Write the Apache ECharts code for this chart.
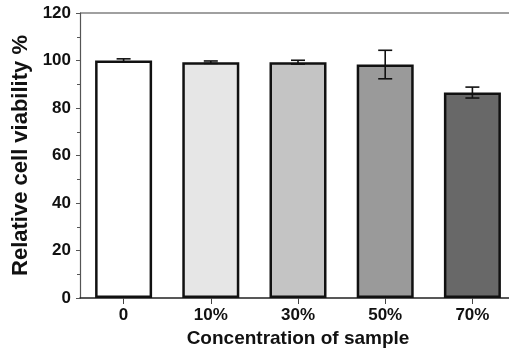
<!DOCTYPE html>
<html>
<head>
<meta charset="utf-8">
<script src="https://cdn.jsdelivr.net/npm/echarts@6/dist/echarts.min.js"></script>
<style>
	html, body { margin: 0; padding: 0; background: #fff; overflow: hidden; }
	#chart { width: 530px; height: 353px; }
</style>
</head>
<body>
<div id="chart"></div>
<script>
const categories = ["0", "10%", "30%", "50%", "70%"];
const viability = [100, 99.3, 99.3, 98.3, 86.5];
const errors = [0.7, 0.5, 0.8, 6.0, 2.3];
const barColors = ["#ffffff", "#e6e6e6", "#c4c4c4", "#9a9a9a", "#686868"];

const chart = echarts.init(document.getElementById("chart"), null, { renderer: "canvas" });

const font = "Arial, 'Liberation Sans', sans-serif";

chart.setOption({
	animation: false,
	grid: { left: 80, top: 13, width: 436, height: 285, show: false },
	xAxis: {
		type: "category",
		data: categories,
		axisLine: { lineStyle: { color: "#222", width: 1.5 } },
		axisTick: { show: true, alignWithLabel: true, length: 6, lineStyle: { color: "#444" } },
		axisLabel: { color: "#111", fontWeight: "bold", fontSize: 17, fontFamily: font, margin: 9 },
		name: "Concentration of sample",
		nameLocation: "middle",
		nameGap: 24,
		nameTextStyle: { color: "#111", fontWeight: "bold", fontSize: 19, fontFamily: font },
	},
	yAxis: {
		type: "value",
		min: 0,
		max: 120,
		interval: 20,
		axisLine: { show: true, lineStyle: { color: "#555", width: 1.2 } },
		axisTick: { show: true, length: 4, lineStyle: { color: "#555" } },
		minorTick: { show: true, splitNumber: 2, length: 3, lineStyle: { color: "#555" } },
		splitLine: { show: false },
		axisLabel: { color: "#111", fontWeight: "bold", fontSize: 17, fontFamily: font, margin: 9 },
		name: "Relative cell viability %",
		nameLocation: "middle",
		nameGap: 40,
		nameTextStyle: { color: "#111", fontWeight: "bold", fontSize: 22, fontFamily: font },
	},
	graphic: [
		{ type: "line", shape: { x1: 80, y1: 13, x2: 530, y2: 13 }, style: { stroke: "#808080", lineWidth: 1.5 } },
	],
	series: [
		{
			type: "bar",
			barWidth: 57,
			data: viability.map((v, i) => ({
				value: v,
				itemStyle: { color: barColors[i], borderColor: "#111", borderWidth: 2.5 },
			})),
		},
		{
			type: "custom",
			data: viability.map((v, i) => [i, v - errors[i], v + errors[i]]),
			renderItem: (params, api) => {
				const lo = api.coord([api.value(0), api.value(1)]);
				const hi = api.coord([api.value(0), api.value(2)]);
				const half = 7;
				const style = { stroke: "#111", lineWidth: 1.6 };
				return {
					type: "group",
					children: [
						{ type: "line", shape: { x1: lo[0], y1: lo[1], x2: hi[0], y2: hi[1] }, style },
						{ type: "line", shape: { x1: lo[0] - half, y1: lo[1], x2: lo[0] + half, y2: lo[1] }, style },
						{ type: "line", shape: { x1: hi[0] - half, y1: hi[1], x2: hi[0] + half, y2: hi[1] }, style },
					],
				};
			},
			z: 5,
		},
	],
});
</script>
</body>
</html>
